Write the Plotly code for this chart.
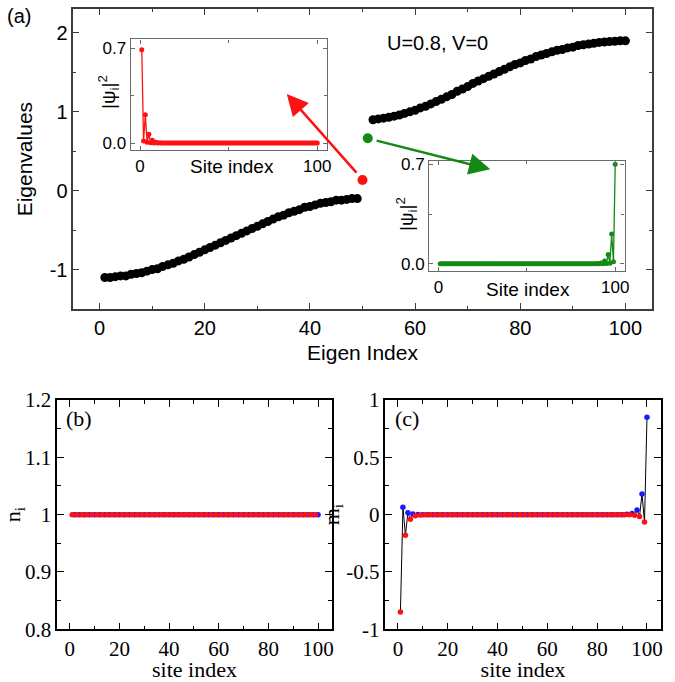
import plotly.graph_objects as go

# ---------------- data ----------------
# panel (a): eigenvalues
eigen_index_lower = list(range(1, 50))
eigen_lower = [-1.10, -1.10, -1.09, -1.08, -1.08, -1.06, -1.05, -1.04, -1.02, -1.00,
               -0.99, -0.96, -0.94, -0.92, -0.89, -0.87, -0.84, -0.81, -0.78, -0.75,
               -0.72, -0.69, -0.66, -0.63, -0.60, -0.57, -0.54, -0.51, -0.48, -0.45,
               -0.42, -0.39, -0.36, -0.33, -0.31, -0.28, -0.26, -0.24, -0.21, -0.20,
               -0.18, -0.16, -0.15, -0.14, -0.12, -0.12, -0.11, -0.10, -0.10]
eigen_index_upper = list(range(52, 101))
eigen_upper = [0.90, 0.91, 0.92, 0.93, 0.945, 0.96, 0.98, 1.00, 1.02, 1.05,
               1.07, 1.10, 1.13, 1.16, 1.19, 1.22, 1.26, 1.29, 1.32, 1.36,
               1.39, 1.42, 1.45, 1.48, 1.51, 1.54, 1.57, 1.60, 1.62, 1.65,
               1.67, 1.70, 1.72, 1.74, 1.76, 1.78, 1.79, 1.81, 1.82, 1.84,
               1.85, 1.86, 1.87, 1.88, 1.885, 1.89, 1.895, 1.90, 1.90]
edge_index = [50, 51]
edge_values = [0.135, 0.665]

# insets: |psi_i|^2 of the two edge states
sites = list(range(1, 101))
psi_red = [0.69, 0.015, 0.21, 0.005, 0.065, 0.002, 0.02, 0.001, 0.006, 0.0,
           0.002, 0.0, 0.001, 0.0, 0.0, 0.0, 0.0, 0.0, 0.0, 0.0,
           0.0, 0.0, 0.0, 0.0, 0.0, 0.0, 0.0, 0.0, 0.0, 0.0,
           0.0, 0.0, 0.0, 0.0, 0.0, 0.0, 0.0, 0.0, 0.0, 0.0,
           0.0, 0.0, 0.0, 0.0, 0.0, 0.0, 0.0, 0.0, 0.0, 0.0,
           0.0, 0.0, 0.0, 0.0, 0.0, 0.0, 0.0, 0.0, 0.0, 0.0,
           0.0, 0.0, 0.0, 0.0, 0.0, 0.0, 0.0, 0.0, 0.0, 0.0,
           0.0, 0.0, 0.0, 0.0, 0.0, 0.0, 0.0, 0.0, 0.0, 0.0,
           0.0, 0.0, 0.0, 0.0, 0.0, 0.0, 0.0, 0.0, 0.0, 0.0,
           0.0, 0.0, 0.0, 0.0, 0.0, 0.0, 0.0, 0.0, 0.0, 0.0]
psi_green = [0.0, 0.0, 0.0, 0.0, 0.0, 0.0, 0.0, 0.0, 0.0, 0.0,
             0.0, 0.0, 0.0, 0.0, 0.0, 0.0, 0.0, 0.0, 0.0, 0.0,
             0.0, 0.0, 0.0, 0.0, 0.0, 0.0, 0.0, 0.0, 0.0, 0.0,
             0.0, 0.0, 0.0, 0.0, 0.0, 0.0, 0.0, 0.0, 0.0, 0.0,
             0.0, 0.0, 0.0, 0.0, 0.0, 0.0, 0.0, 0.0, 0.0, 0.0,
             0.0, 0.0, 0.0, 0.0, 0.0, 0.0, 0.0, 0.0, 0.0, 0.0,
             0.0, 0.0, 0.0, 0.0, 0.0, 0.0, 0.0, 0.0, 0.0, 0.0,
             0.0, 0.0, 0.0, 0.0, 0.0, 0.0, 0.0, 0.0, 0.0, 0.0,
             0.0, 0.0, 0.0, 0.0, 0.0, 0.0, 0.0, 0.001, 0.0, 0.002,
             0.0, 0.006, 0.001, 0.02, 0.002, 0.065, 0.005, 0.21, 0.015, 0.70]

# panel (b): n_i ; panel (c): m_i
n_i = [1.0, 1.0, 1.0, 1.0, 1.0, 1.0, 1.0, 1.0, 1.0, 1.0,
       1.0, 1.0, 1.0, 1.0, 1.0, 1.0, 1.0, 1.0, 1.0, 1.0,
       1.0, 1.0, 1.0, 1.0, 1.0, 1.0, 1.0, 1.0, 1.0, 1.0,
       1.0, 1.0, 1.0, 1.0, 1.0, 1.0, 1.0, 1.0, 1.0, 1.0,
       1.0, 1.0, 1.0, 1.0, 1.0, 1.0, 1.0, 1.0, 1.0, 1.0,
       1.0, 1.0, 1.0, 1.0, 1.0, 1.0, 1.0, 1.0, 1.0, 1.0,
       1.0, 1.0, 1.0, 1.0, 1.0, 1.0, 1.0, 1.0, 1.0, 1.0,
       1.0, 1.0, 1.0, 1.0, 1.0, 1.0, 1.0, 1.0, 1.0, 1.0,
       1.0, 1.0, 1.0, 1.0, 1.0, 1.0, 1.0, 1.0, 1.0, 1.0,
       1.0, 1.0, 1.0, 1.0, 1.0, 1.0, 1.0, 1.0, 1.0, 1.0]
m_i = [-0.85, 0.065, -0.18, 0.017, -0.041, 0.005, -0.01, 0.001, -0.003, 0.0,
       0.0, 0.0, 0.0, 0.0, 0.0, 0.0, 0.0, 0.0, 0.0, 0.0,
       0.0, 0.0, 0.0, 0.0, 0.0, 0.0, 0.0, 0.0, 0.0, 0.0,
       0.0, 0.0, 0.0, 0.0, 0.0, 0.0, 0.0, 0.0, 0.0, 0.0,
       0.0, 0.0, 0.0, 0.0, 0.0, 0.0, 0.0, 0.0, 0.0, 0.0,
       0.0, 0.0, 0.0, 0.0, 0.0, 0.0, 0.0, 0.0, 0.0, 0.0,
       0.0, 0.0, 0.0, 0.0, 0.0, 0.0, 0.0, 0.0, 0.0, 0.0,
       0.0, 0.0, 0.0, 0.0, 0.0, 0.0, 0.0, 0.0, 0.0, 0.0,
       0.0, 0.0, 0.0, 0.0, 0.0, 0.0, 0.0, 0.0, 0.0, 0.0,
       0.0, 0.003, -0.001, 0.01, -0.005, 0.041, -0.017, 0.18, -0.065, 0.85]

# ---------------- figure ----------------
ARIAL = "Arial, Liberation Sans, sans-serif"
TIMES = "Times New Roman, Liberation Serif, serif"
RED = "#ff1111"
GREEN = "#138a13"
BLUE = "#1a1aff"
W, H = 675, 682

fig = go.Figure()

# panel (a)
fig.add_trace(go.Scatter(x=eigen_index_lower, y=eigen_lower, mode="markers",
                         marker=dict(color="black", size=9), xaxis="x", yaxis="y"))
fig.add_trace(go.Scatter(x=eigen_index_upper, y=eigen_upper, mode="markers",
                         marker=dict(color="black", size=9), xaxis="x", yaxis="y"))
fig.add_trace(go.Scatter(x=edge_index[:1], y=edge_values[:1], mode="markers",
                         marker=dict(color=RED, size=10), xaxis="x", yaxis="y"))
fig.add_trace(go.Scatter(x=edge_index[1:], y=edge_values[1:], mode="markers",
                         marker=dict(color=GREEN, size=10), xaxis="x", yaxis="y"))

# insets
fig.add_trace(go.Scatter(x=sites, y=psi_red, mode="lines+markers",
                         line=dict(color=RED, width=1.3), marker=dict(color=RED, size=5),
                         xaxis="x2", yaxis="y2"))
fig.add_trace(go.Scatter(x=sites, y=psi_green, mode="lines+markers",
                         line=dict(color=GREEN, width=1.3), marker=dict(color=GREEN, size=5),
                         xaxis="x3", yaxis="y3"))

# panel (b)
even_sites = sites[1::2]
odd_sites = sites[0::2]
fig.add_trace(go.Scatter(x=sites, y=n_i, mode="lines", line=dict(color="black", width=1),
                         xaxis="x4", yaxis="y4"))
fig.add_trace(go.Scatter(x=even_sites, y=n_i[1::2], mode="markers",
                         marker=dict(color=BLUE, size=5.5), xaxis="x4", yaxis="y4"))
fig.add_trace(go.Scatter(x=odd_sites, y=n_i[0::2], mode="markers",
                         marker=dict(color=RED, size=5.5), xaxis="x4", yaxis="y4"))

# panel (c)
fig.add_trace(go.Scatter(x=sites, y=m_i, mode="lines", line=dict(color="black", width=1),
                         xaxis="x5", yaxis="y5"))
fig.add_trace(go.Scatter(x=even_sites, y=m_i[1::2], mode="markers",
                         marker=dict(color=BLUE, size=5.5), xaxis="x5", yaxis="y5"))
fig.add_trace(go.Scatter(x=odd_sites, y=m_i[0::2], mode="markers",
                         marker=dict(color=RED, size=5.5), xaxis="x5", yaxis="y5"))


def ax(font_family, font_size, line_color, line_width, ticklen, minor_len, **kw):
    d = dict(showline=True, linecolor=line_color, linewidth=line_width, mirror="ticks",
             ticks="inside", ticklen=ticklen, tickwidth=1.2, tickcolor=line_color,
             zeroline=False, showgrid=False, automargin=False,
             tickfont=dict(family=font_family, size=font_size, color="black"))
    d["minor"] = dict(ticks="inside", ticklen=minor_len, tickwidth=1.2, tickcolor=line_color,
                      showgrid=False)
    for k, v in kw.items():
        if k == "minor":
            d["minor"].update(v)
        else:
            d[k] = v
    return d


def px_x(p):
    return p / W


def px_y(p):
    return 1 - p / H


A_LINE = "#3c3c3c"
I_LINE = "#6a6a6a"
A_TICK = 20
A_TITLE = 21
I_TICK = 17
I_TITLE = 19
T_TICK = 21
T_SIZE = 22

layout = dict(
    width=W, height=H, showlegend=False,
    margin=dict(l=0, r=0, t=0, b=0, autoexpand=False),
    paper_bgcolor="white", plot_bgcolor="rgba(0,0,0,0)",
    xaxis=ax(ARIAL, A_TICK, A_LINE, 1.6, 6, 3,
             domain=[0.1086, 0.9655], anchor="y", range=[-5, 105], tick0=0, dtick=20,
             minor=dict(dtick=10, tick0=0),
             title=dict(text="Eigen Index", font=dict(family=ARIAL, size=A_TITLE, color="black"),
                        standoff=7)),
    yaxis=ax(ARIAL, A_TICK, A_LINE, 1.6, 6, 3,
             domain=[0.5469, 0.9864], anchor="x", range=[-1.5, 2.3],
             tickvals=[-1, 0, 1, 2], ticktext=["-1", "0", "1", "2"],
             minor=dict(dtick=0.5, tick0=0),
             title=dict(text="Eigenvalues", font=dict(family=ARIAL, size=A_TITLE, color="black"),
                        standoff=11)),
    xaxis2=ax(ARIAL, I_TICK, I_LINE, 1.2, 4, 3,
              domain=[0.1935, 0.4839], anchor="y2", range=[-5.3, 105.3],
              tickvals=[0, 100], minor=dict(dtick=50, tick0=0)),
    yaxis2=ax(ARIAL, I_TICK, I_LINE, 1.2, 4, 3,
              domain=[0.7796, 0.9422], anchor="x2", range=[-0.054, 0.767],
              tickvals=[0, 0.7], ticktext=["0.0", "0.7"], minor=dict(dtick=0.35, tick0=0)),
    xaxis3=ax(ARIAL, I_TICK, I_LINE, 1.2, 4, 3,
              domain=[0.6357, 0.9253], anchor="y3", range=[-5.3, 105.3],
              tickvals=[0, 100], minor=dict(dtick=50, tick0=0)),
    yaxis3=ax(ARIAL, I_TICK, I_LINE, 1.2, 4, 3,
              domain=[0.6023, 0.7639], anchor="x3", range=[-0.052, 0.723],
              tickvals=[0, 0.7], ticktext=["0.0", "0.7"], minor=dict(dtick=0.35, tick0=0)),
    xaxis4=ax(TIMES, T_TICK, "black", 1.5, 7, 4,
              domain=[0.0849, 0.4914], anchor="y4", range=[-5, 105.5], tick0=0, dtick=20,
              minor=dict(dtick=10, tick0=0),
              title=dict(text="site index", font=dict(family=TIMES, size=T_SIZE, color="black"),
                         standoff=6)),
    yaxis4=ax(TIMES, T_TICK, "black", 1.5, 7, 4,
              domain=[0.0773, 0.4135], anchor="x4", range=[0.8, 1.2],
              tickvals=[0.8, 0.9, 1.0, 1.1, 1.2], ticktext=["0.8", "0.9", "1", "1.1", "1.2"],
              minor=dict(dtick=0.05, tick0=0.8),
              title=dict(text="n<sub>i</sub>", font=dict(family=TIMES, size=T_SIZE, color="black"),
                         standoff=1)),
    xaxis5=ax(TIMES, T_TICK, "black", 1.5, 7, 4,
              domain=[0.5711, 0.9788], anchor="y5", range=[-5, 105.5], tick0=0, dtick=20,
              minor=dict(dtick=10, tick0=0),
              title=dict(text="site index", font=dict(family=TIMES, size=T_SIZE, color="black"),
                         standoff=6)),
    yaxis5=ax(TIMES, T_TICK, "black", 1.5, 7, 4,
              domain=[0.0773, 0.4135], anchor="x5", range=[-1, 1],
              tickvals=[-1, -0.5, 0, 0.5, 1], ticktext=["-1", "-0.5", "0", "0.5", "1"],
              minor=dict(dtick=0.25, tick0=0),
              title=dict(text="m<sub>i</sub>", font=dict(family=TIMES, size=T_SIZE, color="black"),
                         standoff=1)),
)
fig.update_layout(**layout)

PSI = "|ψ<sub>i</sub>|<sup>2</sup>"


def label(xp, yp, text, family, size, angle=0):
    return dict(x=px_x(xp), y=px_y(yp), xref="paper", yref="paper", showarrow=False,
                xanchor="center", yanchor="middle", textangle=angle, text=text,
                font=dict(family=family, size=size, color="black"))


annotations = [
    dict(x=35.6, y=1.225, ax=49.1, ay=0.21, xref="x", yref="y", axref="x", ayref="y",
         showarrow=True, arrowhead=2, arrowsize=1.7, arrowwidth=2.5, arrowcolor=RED,
         standoff=0, startstandoff=0, text=""),
    dict(x=74.3, y=0.271, ax=52.4, ay=0.64, xref="x", yref="y", axref="x", ayref="y",
         showarrow=True, arrowhead=2, arrowsize=1.7, arrowwidth=2.5, arrowcolor=GREEN,
         standoff=0, startstandoff=0, text=""),
    label(437, 43, "U=0.8, V=0", ARIAL, 20),
    label(19, 16, "(a)", ARIAL, 20),
    label(79, 418, "(b)", TIMES, T_SIZE),
    label(407, 418, "(c)", TIMES, T_SIZE),
    # inset axis titles
    label(232, 166, "Site index", ARIAL, I_TITLE),
    label(528, 289, "Site index", ARIAL, I_TITLE),
    label(108, 92, PSI, ARIAL, I_TITLE, -90),
    label(407, 214, PSI, ARIAL, I_TITLE, -90),
]
fig.update_layout(annotations=annotations)

fig.write_html("out.html", config={"displayModeBar": False},
               post_script="document.body.style.margin='0px';")
